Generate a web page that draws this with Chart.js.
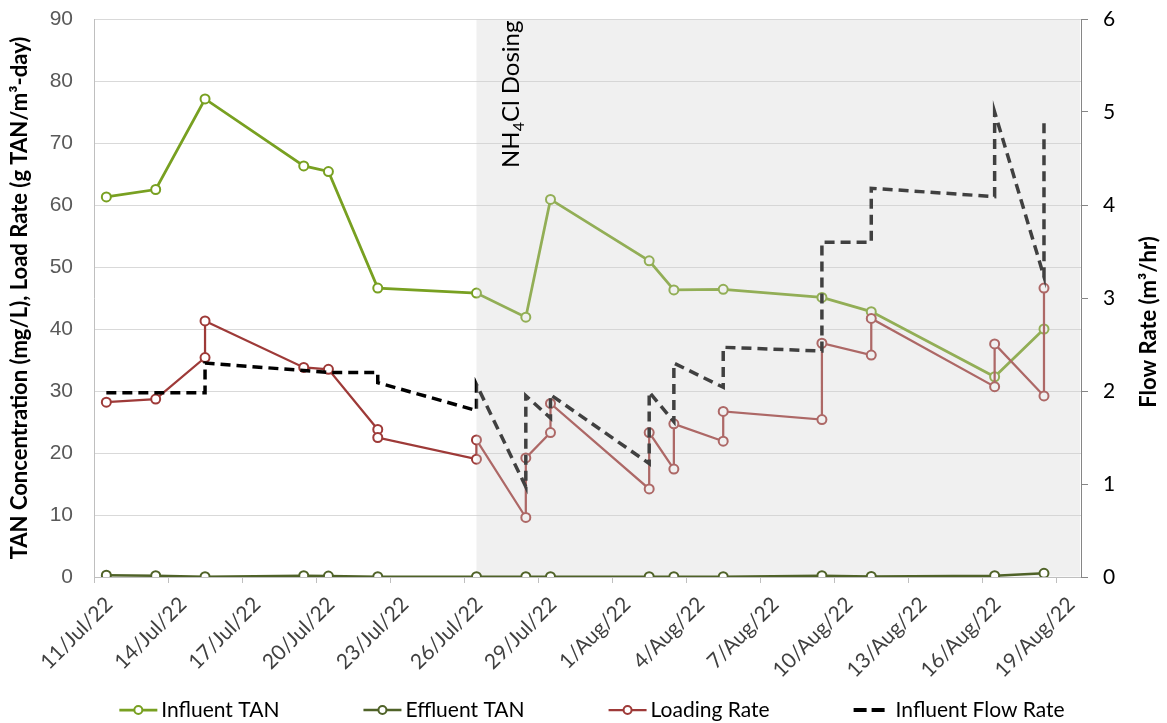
<!DOCTYPE html>
<html>
<head>
<meta charset="utf-8">
<title>TAN chart</title>
<script src="https://cdn.jsdelivr.net/npm/chart.js@4.4.0/dist/chart.umd.min.js"></script>
<style>
  body { margin: 0; background: #fff; }
  canvas { display: block; }
</style>
</head>
<body>
<canvas id="tanChart" width="1167" height="723"></canvas>
<script>
// one reading per sampling day
const sampleDates = ['2022-07-11', '2022-07-13', '2022-07-15', '2022-07-19', '2022-07-20', '2022-07-22',
  '2022-07-26', '2022-07-28', '2022-07-29', '2022-08-02', '2022-08-03', '2022-08-05',
  '2022-08-09', '2022-08-11', '2022-08-16', '2022-08-18'];
const influentTAN = [61.3, 62.5, 77.1, 66.3, 65.4, 46.6, 45.8, 41.9, 60.9, 51.0, 46.3, 46.4, 45.1, 42.8, 32.3, 40.0];
const effluentTAN = [0.3, 0.2, 0.05, 0.2, 0.15, 0.05, 0.05, 0.05, 0.05, 0.05, 0.05, 0.05, 0.2, 0.1, 0.2, 0.6];

// loading and flow: most days have a reading before and after the flow change
const pairedDates = ['2022-07-11', '2022-07-13', '2022-07-15', '2022-07-15', '2022-07-19', '2022-07-20',
  '2022-07-22', '2022-07-22', '2022-07-26', '2022-07-26', '2022-07-28', '2022-07-28',
  '2022-07-29', '2022-07-29', '2022-08-02', '2022-08-02', '2022-08-03', '2022-08-03',
  '2022-08-05', '2022-08-05', '2022-08-09', '2022-08-09', '2022-08-11', '2022-08-11',
  '2022-08-16', '2022-08-16', '2022-08-18', '2022-08-18'];
const loadingRate = [28.2, 28.7, 35.4, 41.3, 33.8, 33.5, 23.8, 22.5, 19.0, 22.1, 9.6, 19.2,
  23.3, 28.0, 14.2, 23.3, 17.4, 24.7, 21.9, 26.7, 25.4, 37.7, 35.8, 41.7, 30.7, 37.6, 29.2, 46.6];
const flowRate = [1.98, 1.98, 1.98, 2.30, 2.22, 2.20, 2.20, 2.09, 1.79, 2.07, 0.97, 1.95,
  1.71, 1.96, 1.22, 1.99, 1.67, 2.30, 2.04, 2.47, 2.43, 3.60, 3.60, 4.18, 4.09, 5.00, 3.23, 4.94];

const tickLabels = ['11/Jul/22', '14/Jul/22', '17/Jul/22', '20/Jul/22', '23/Jul/22', '26/Jul/22', '29/Jul/22',
  '1/Aug/22', '4/Aug/22', '7/Aug/22', '10/Aug/22', '13/Aug/22', '16/Aug/22', '19/Aug/22'];

const firstDay = '2022-07-11';
const lastDay = '2022-08-20';
const dosingStart = '2022-07-26';

function dayOf(d) {
  return (Date.parse(d) - Date.parse(firstDay)) / 86400000;
}

// points sit in the middle of their day slot
function toPoints(dates, values) {
  return dates.map((d, i) => ({ x: dayOf(d) + 0.5, y: values[i] }));
}

const dosingDay = dayOf(dosingStart) + 0.5;

// grey band for the dosing period, effluent is drawn on top of it
const shadePlugin = {
  id: 'dosingShade',
  beforeDatasetDraw(chart, args) {
    if (args.index !== 1) return;
    const { ctx, chartArea } = chart;
    const x0 = chart.scales.x.getPixelForValue(dosingDay);
    ctx.save();
    ctx.fillStyle = 'rgba(206,206,206,0.31)';
    ctx.fillRect(x0, chartArea.top + 0.5, chartArea.right - x0 - 1, chartArea.bottom - chartArea.top - 1);
    ctx.restore();
  },
  afterDatasetsDraw(chart) {
    const ctx = chart.ctx;
    const x = chart.scales.x.getPixelForValue(dosingDay) + 43;
    ctx.save();
    ctx.translate(x, 168);
    ctx.rotate(-Math.PI / 2);
    ctx.fillStyle = '#000';
    ctx.textBaseline = 'alphabetic';
    ctx.font = '24px Lato';
    ctx.fillText('NH', 0, 0);
    let w = ctx.measureText('NH').width;
    ctx.font = '16px Lato';
    ctx.fillText('4', w, 5);
    w += ctx.measureText('4').width;
    ctx.font = '24px Lato';
    ctx.fillText('Cl Dosing', w, 0);
    ctx.restore();
  }
};

// right axis title reads bottom to top like the left one
const rightTitlePlugin = {
  id: 'rightTitle',
  afterDraw(chart) {
    const ctx = chart.ctx;
    const area = chart.chartArea;
    ctx.save();
    ctx.translate(1149, (area.top + area.bottom) / 2 + 24);
    ctx.rotate(-Math.PI / 2);
    ctx.font = 'bold 22px Lato';
    ctx.fillStyle = '#000';
    ctx.textAlign = 'center';
    ctx.textBaseline = 'middle';
    ctx.fillText('Flow Rate (m³/hr)', 0, 0);
    ctx.restore();
  }
};

// legend row under the axis, equal gaps like the original
const legendPlugin = {
  id: 'bottomLegend',
  afterDraw(chart) {
    const ctx = chart.ctx;
    const sets = chart.data.datasets;
    const sym = 38, gap = 4, space = 84, y = 710;
    ctx.save();
    ctx.font = '21px Lato';
    const widths = sets.map(ds => sym + gap + ctx.measureText(ds.label).width);
    const total = widths.reduce((a, b) => a + b, 0) + space * (sets.length - 1);
    let x = 592 - total / 2;
    sets.forEach((ds, i) => {
      ctx.strokeStyle = ds.borderColor;
      if (ds.borderDash) {
        ctx.lineWidth = 4;
        ctx.setLineDash([13, 5]);
        ctx.beginPath();
        ctx.moveTo(x, y);
        ctx.lineTo(x + 31, y);
        ctx.stroke();
        ctx.setLineDash([]);
      } else {
        ctx.lineWidth = ds.borderWidth;
        ctx.beginPath();
        ctx.moveTo(x, y);
        ctx.lineTo(x + sym, y);
        ctx.stroke();
        ctx.beginPath();
        ctx.arc(x + sym / 2, y, 4, 0, Math.PI * 2);
        ctx.fillStyle = '#fff';
        ctx.fill();
        ctx.lineWidth = 2;
        ctx.stroke();
      }
      ctx.fillStyle = '#000';
      ctx.textBaseline = 'middle';
      ctx.fillText(ds.label, x + sym + gap, y);
      x += widths[i] + space;
    });
    ctx.restore();
  }
};

const markerStyle = (color) => ({
  borderColor: color,
  pointBorderColor: color,
  pointBackgroundColor: '#fff',
  pointRadius: 4.5,
  pointBorderWidth: 2,
  tension: 0
});

// tick padding would otherwise be added above the plot
function fixVertical(width) {
  return s => { s.width = width; s.paddingTop = 0; s.paddingBottom = 0; };
}

new Chart(document.getElementById('tanChart'), {
  type: 'line',
  data: {
    datasets: [
      { label: 'Influent TAN', data: toPoints(sampleDates, influentTAN), borderWidth: 2.75,
        yAxisID: 'y', order: 3, ...markerStyle('#78A021') },
      { label: 'Effluent TAN', data: toPoints(sampleDates, effluentTAN), borderWidth: 2.5,
        yAxisID: 'y', order: 0, ...markerStyle('#4F6228') },
      { label: 'Loading Rate', data: toPoints(pairedDates, loadingRate), borderWidth: 2.25,
        yAxisID: 'y', order: 2, ...markerStyle('#9E3A38') },
      { label: 'Influent Flow Rate', data: toPoints(pairedDates, flowRate), borderColor: '#000',
        borderWidth: 3.5, borderDash: [10, 6], pointRadius: 0, tension: 0, yAxisID: 'y2', order: 1 }
    ]
  },
  options: {
    responsive: false,
    animation: false,
    layout: { padding: { top: 19, right: 0, bottom: 0, left: 0 } },
    plugins: { legend: { display: false }, tooltip: { enabled: false } },
    scales: {
      x: {
        type: 'linear', min: 0, max: dayOf(lastDay),
        ticks: {
          stepSize: 3, includeBounds: false, autoSkip: false, minRotation: 45, maxRotation: 45,
          labelOffset: 15, padding: 9, color: '#404040', font: { family: 'Lato', size: 21 },
          callback: v => tickLabels[Math.round(v / 3)]
        },
        grid: { drawOnChartArea: false, color: '#bfbfbf', tickLength: 6 },
        border: { color: '#bfbfbf' },
        afterFit: s => { s.height = 146; }
      },
      y: {
        position: 'left', min: 0, max: 90,
        ticks: { stepSize: 10, padding: 21, color: '#595959', font: { family: 'Liberation Sans', size: 21 } },
        grid: { color: '#d9d9d9', drawTicks: false },
        border: { color: '#bfbfbf' },
        title: { display: true, text: 'TAN Concentration (mg/L), Load Rate (g TAN/m³-day)', color: '#000',
          font: { family: 'Lato', size: 22, weight: 'bold' }, padding: { top: 7, bottom: 0 } },
        afterFit: fixVertical(94)
      },
      y2: {
        position: 'right', min: 0, max: 6,
        ticks: { stepSize: 1, padding: 15, color: '#000', font: { family: 'Lato', size: 21 } },
        grid: { drawOnChartArea: false, color: '#868686', tickLength: 7 },
        border: { color: '#868686' },
        afterFit: fixVertical(86)
      }
    }
  },
  plugins: [shadePlugin, rightTitlePlugin, legendPlugin]
});
</script>
</body>
</html>
